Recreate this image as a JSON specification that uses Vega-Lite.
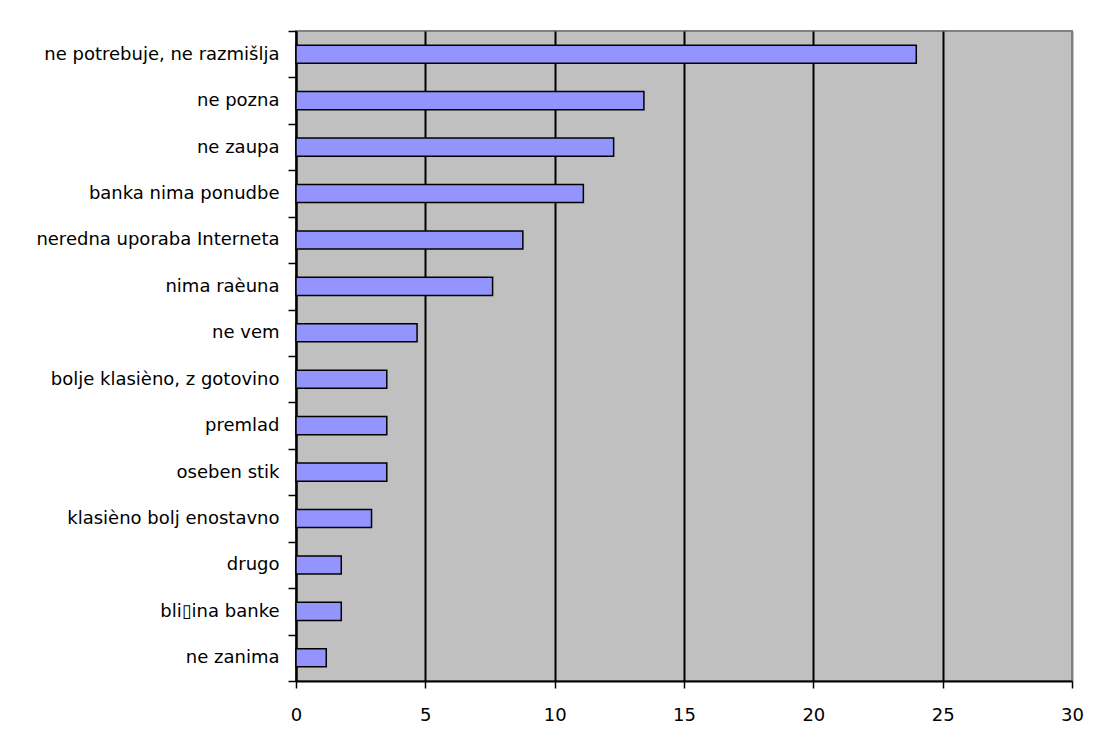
{
  "$schema": "https://vega.github.io/schema/vega-lite/v6.json",
  "width": 776,
  "height": 650,
  "autosize": {"type": "none"},
  "padding": {"left": 296, "top": 31, "right": 21, "bottom": 64},
  "background": "white",
  "data": {
    "values": [
      {"razlog": "ne potrebuje, ne razmišlja", "odstotek": 23.98},
      {"razlog": "ne pozna", "odstotek": 13.45},
      {"razlog": "ne zaupa", "odstotek": 12.28},
      {"razlog": "banka nima ponudbe", "odstotek": 11.11},
      {"razlog": "neredna uporaba Interneta", "odstotek": 8.77},
      {"razlog": "nima raèuna", "odstotek": 7.60},
      {"razlog": "ne vem", "odstotek": 4.68},
      {"razlog": "bolje klasièno, z gotovino", "odstotek": 3.51},
      {"razlog": "premlad", "odstotek": 3.51},
      {"razlog": "oseben stik", "odstotek": 3.51},
      {"razlog": "klasièno bolj enostavno", "odstotek": 2.92},
      {"razlog": "drugo", "odstotek": 1.75},
      {"razlog": "bli\u25afina banke", "odstotek": 1.75},
      {"razlog": "ne zanima", "odstotek": 1.17}
    ]
  },
  "mark": {"type": "bar", "fill": "#9494FF", "stroke": "#000000", "strokeWidth": 1.5, "height": {"band": 0.39}},
  "encoding": {
    "y": {
      "field": "razlog",
      "type": "nominal",
      "sort": null,
      "scale": {"paddingInner": 0, "paddingOuter": 0},
      "axis": {
        "title": null,
        "tickBand": "extent",
        "tickSize": 8,
        "tickColor": "#000000",
        "tickWidth": 1.5,
        "domainColor": "#000000",
        "domainWidth": 2,
        "labelPadding": 9,
        "labelFont": "DejaVu Sans",
        "labelFontSize": 18,
        "labelColor": "#000000",
        "labelLimit": 300
      }
    },
    "x": {
      "field": "odstotek",
      "type": "quantitative",
      "scale": {"domain": [0, 30], "nice": false},
      "axis": {
        "title": null,
        "values": [0, 5, 10, 15, 20, 25, 30],
        "grid": true,
        "gridColor": {"condition": {"test": "datum.value === 30", "value": "#808080"}, "value": "#000000"},
        "gridWidth": 2,
        "tickSize": 7,
        "tickColor": "#000000",
        "tickWidth": 1.5,
        "domainColor": "#000000",
        "domainWidth": 2,
        "labelPadding": 18,
        "labelFont": "DejaVu Sans",
        "labelFontSize": 18,
        "labelColor": "#000000",
        "labelFlush": false
      }
    }
  },
  "config": {
    "view": {"fill": "#C0C0C0", "stroke": "#808080", "strokeWidth": 2}
  }
}
